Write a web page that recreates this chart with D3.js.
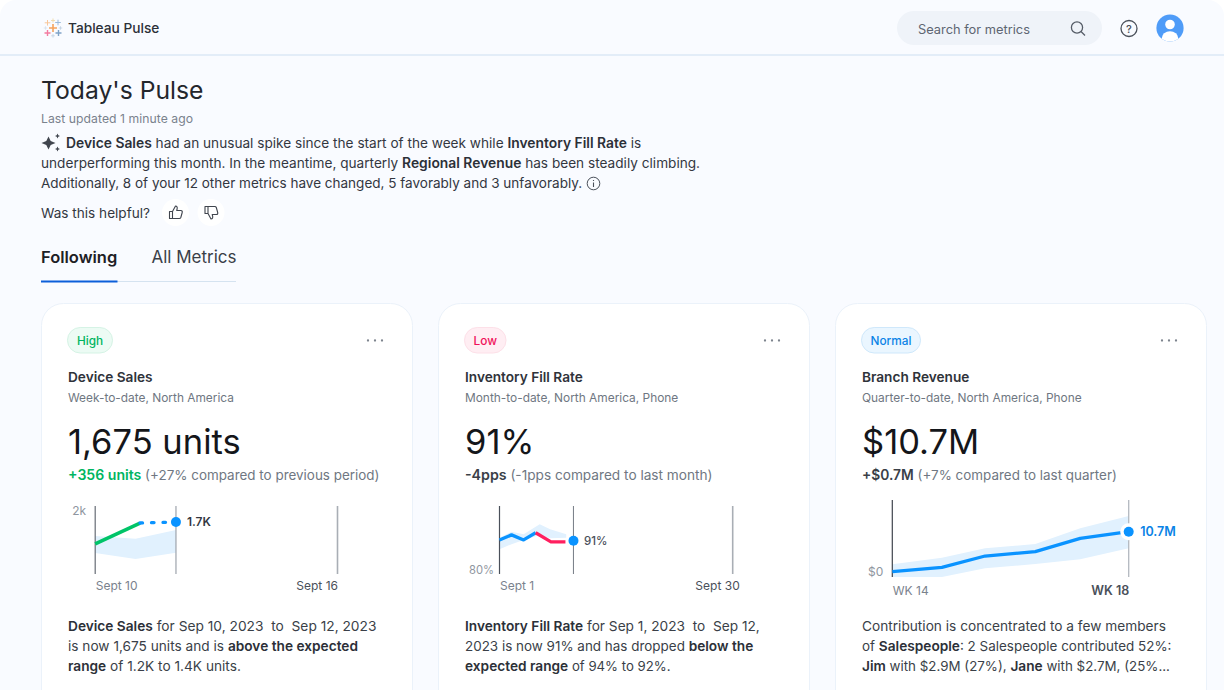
<!DOCTYPE html>
<html><head><meta charset="utf-8">
<script src="https://cdn.jsdelivr.net/npm/d3@7"></script>
<style>
html,body{margin:0;padding:0;background:#fff;overflow:hidden}
svg{display:block}
text{font-family:Inter,"Noto Sans",sans-serif}
</style></head><body><svg id="c" width="1224" height="690"></svg>
<script>
// ---- Data ----
const salesDays = [10, 11.11];
const salesActual = [1027, 1647];
const salesDashDays = [11.11, 12];
const salesDash = [1647, 1675];
const salesBandDays = [10, 11, 12];
const salesBandHigh = [1263, 1183, 1440];
const salesBandLow = [761, 583, 770];
const salesXTicks = [10, 16];
const salesXLabels = ["Sept 10", "Sept 16"];

const fillDays = [1, 2.5, 4, 5.5];
const fillBlue = [91.3, 93.2, 91.3, 94];
const fillRedDays = [5.5, 7.4, 9.2];
const fillRed = [94, 90.6, 90.6];
const fillBandDays = [1, 2.5, 4, 6, 7.3, 9.3];
const fillBandHigh = [92.1, 94.4, 93.4, 97.2, 95.3, 93.4];
const fillBandLow = [87.8, 89.7, 91.3, 93.2, 91.9, 92.1];
const fillXTicks = [1, 30];
const fillXLabels = ["Sept 1", "Sept 30"];

const revWeeks = [14, 14.84, 15.57, 16.42, 17.18, 18];
const revValues = [0, 1.16, 4.19, 5.35, 8.9, 10.7];
const revBandHigh = [1.96, 3.74, 6.24, 7.4, 11.6, 14.9];
const revBandLow = [-1.4, -1.4, 0.9, 2.05, 3.3, 6.24];
const revXTicks = [14, 18];
const revXLabels = ["WK 14", "WK 18"];

const titles = ["Device Sales", "Inventory Fill Rate", "Branch Revenue"];
const subtitles = ["Week-to-date, North America", "Month-to-date, North America, Phone", "Quarter-to-date, North America, Phone"];
const bigNumbers = ["1,675 units", "91%", "$10.7M"];
const badges = ["High", "Low", "Normal"];
const deltas = ["+356 units", "-4pps", "+$0.7M"];
const deltaNotes = [" (+27% compared to previous period)", " (-1pps compared to last month)", " (+7% compared to last quarter)"];
const summaryLines = [
  [["Device Sales",1],[" had an unusual spike since the start of the week while "],["Inventory Fill Rate",1],[" is"]],
  [["underperforming this month. In the meantime, quarterly "],["Regional Revenue",1],[" has been steadily climbing."]],
  [["Additionally, 8 of your 12 other metrics have changed, 5 favorably and 3 unfavorably."]]
];
const descriptions = [
  [[["Device Sales",1],[" for Sep 10, 2023  to  Sep 12, 2023"]],
   [["is now 1,675 units and is "],["above the expected",1]],
   [["range",1],[" of 1.2K to 1.4K units."]]],
  [[["Inventory Fill Rate",1],[" for Sep 1, 2023  to  Sep 12,"]],
   [["2023 is now 91% and has dropped "],["below the",1]],
   [["expected range",1],[" of 94% to 92%."]]],
  [[["Contribution is concentrated to a few members"]],
   [["of "],["Salespeople",1],[": 2 Salespeople contributed 52%:"]],
   [["Jim",1],[" with $2.9M (27%), "],["Jane",1],[" with $2.7M, (25%..."]]]
];

// ---- Helpers ----
const svg = d3.select("#c");
const BLUE="#0a93ff", GREEN="#00c468", RED="#ff1f5f", BAND="#e1f1fe", INK="#2c3038", GREY="#6f7782";
function rich(g,x,y,runs,size,boldSize,color,boldColor){
  const t=g.append("text").attr("x",x).attr("y",y).style("white-space","pre");
  runs.forEach(r=>t.append("tspan").text(r[0]).attr("font-size",r[1]?boldSize:size).attr("font-weight",r[1]?600:400).style("fill",r[1]?(boldColor||INK):(color||INK)));
  return t;
}
function txt(g,x,y,s,size,color,weight,anchor){
  return g.append("text").attr("x",x).attr("y",y).text(s).attr("font-size",size).style("fill",color||INK).attr("font-weight",weight||400).attr("text-anchor",anchor||"start");
}

// ---- Page ----
svg.append("rect").attr("width",1224).attr("height",720).attr("rx",16).attr("fill","#f9fbff");
svg.append("line").attr("x1",0).attr("x2",1224).attr("y1",55).attr("y2",55).attr("stroke","#dbe9f6").attr("stroke-width",1.4);

// logo
const logo=svg.append("g");
[[53,28,4,"#f6a35c",1.6],[47.5,22.8,2.8,"#f8c79a",1],[58,22.5,2.8,"#9bbbdc",1],[47.5,33,3,"#f37ba0",1.4],[58.5,33,3,"#7fa3c7",1.4],[53,20.5,2,"#efd9a8",.9],[53,35.8,1.8,"#c3d2e3",.9],[45.5,28,1.7,"#d8e1ec",.9],[60.5,28,1.7,"#c3d2e3",.9]].forEach(d=>{
  logo.append("path").attr("d",`M${d[0]-d[2]} ${d[1]}H${d[0]+d[2]}M${d[0]} ${d[1]-d[2]}V${d[1]+d[2]}`).attr("stroke",d[3]).attr("stroke-width",d[4]).attr("fill","none");
});
txt(svg,68,33,"Tableau Pulse",13.7,INK,500);

// search, help, avatar
svg.append("rect").attr("x",897).attr("y",11).attr("width",205).attr("height",34).attr("rx",17).attr("fill","#eff3f9");
txt(svg,918,33.5,"Search for metrics",12.85,"#5e6672");
svg.append("circle").attr("cx",1077).attr("cy",27.5).attr("r",5.6).attr("fill","none").attr("stroke","#555c67").attr("stroke-width",1.3);
svg.append("path").attr("d","M1081 31.5L1085 35.5").attr("stroke","#555c67").attr("stroke-width",1.3);
svg.append("circle").attr("cx",1129).attr("cy",28.5).attr("r",8).attr("fill","none").attr("stroke","#4a505a").attr("stroke-width",1.3);
txt(svg,1129,32.5,"?",11,"#4a505a",500,"middle");
const clip=svg.append("clipPath").attr("id","av");
clip.append("circle").attr("cx",1170).attr("cy",28).attr("r",13.6);
svg.append("circle").attr("cx",1170).attr("cy",28).attr("r",13.6).attr("fill","#4f9cf8");
const av=svg.append("g").attr("clip-path","url(#av)");
av.append("circle").attr("cx",1170).attr("cy",24.5).attr("r",4.8).attr("fill","#fff");
av.append("ellipse").attr("cx",1170).attr("cy",38).attr("rx",8.2).attr("ry",6.8).attr("fill","#fff");

// heading
txt(svg,41,99,"Today's Pulse",24.7,"#23262c",400);
txt(svg,41,123,"Last updated 1 minute ago",12.2,"#7a828d").attr("letter-spacing",.05);
const sp=svg.append("g").attr("fill","#40454e");
sp.append("path").attr("d","M48.5 136.5L50.7 141L55.5 143L50.7 145L48.5 149.5L46.3 145L41.5 143L46.3 141Z");
sp.append("path").attr("d","M57.5 133.5L58.3 135.2L60 136L58.3 136.8L57.5 138.5L56.7 136.8L55 136L56.7 135.2Z");
sp.append("path").attr("d","M57.5 146.5L58.3 148.2L60 149L58.3 149.8L57.5 151.5L56.7 149.8L55 149L56.7 148.2Z");
const sx=[66,41,41], sy=[148,168,188], sSize=[13.63,13.63,13.52];
summaryLines.forEach((l,i)=>rich(svg,sx[i],sy[i],l,sSize[i],13.85,"#33373f"));
svg.append("circle").attr("cx",593.5).attr("cy",183.5).attr("r",6.3).attr("fill","none").attr("stroke","#4a505a").attr("stroke-width",1);
svg.append("path").attr("d","M593.5 182.5V187M593.5 180V181").attr("stroke","#4a505a").attr("stroke-width",1.1);
txt(svg,41,218,"Was this helpful?",13.6,"#33373f");
[175.5,211].forEach((cx,i)=>{
  svg.append("circle").attr("cx",cx).attr("cy",212.5).attr("r",13.5).attr("fill","#fff");
  const dy=i? "translate("+cx+",212.5) scale(1,-1)":"translate("+cx+",212.5)";
  svg.append("path").attr("transform",dy).attr("fill","none").attr("stroke","#40454e").attr("stroke-width",1.1).attr("stroke-linejoin","round")
    .attr("d","M-6 -1H-3V6H-6ZM-3 -1L0 -6.5C1.6 -6.5 2 -5 1.6 -3.5L1.2 -2H5.4C6.6 -2 7 -1 6.7 0L5.3 5C5 5.8 4.6 6 3.8 6H-3");
});

// tabs
txt(svg,41,262.5,"Following",16.5,"#1d2025",600);
txt(svg,151.5,262.5,"All Metrics",17,"#3a3f48",400);
svg.append("line").attr("x1",41).attr("x2",236).attr("y1",281.5).attr("y2",281.5).attr("stroke","#d5e3f0").attr("stroke-width",1);
svg.append("line").attr("x1",41).attr("x2",117.5).attr("y1",281.5).attr("y2",281.5).attr("stroke","#0c5fd9").attr("stroke-width",2);

// ---- Cards ----
const cardX=[41,438,835];
const pillW=[45,41.5,59];
const pillFill=["#ecfbf4","#ffeef3","#eaf6ff"];
const pillStroke=["#d5f3e5","#fde0e8","#cfe8fb"];
const pillText=["#00b561","#f0115a","#0a83e6"];
const deltaBold=[14.1,14.2,13.8], deltaSize=[13.45,13.65,13.45];
const descSize=[[13.75,13.67,13.7],[13.7,13.45,13.2],[13.68,13.45,13.35]];
cardX.forEach((x,i)=>{
  const g=svg.append("g");
  g.append("rect").attr("x",x+.5).attr("y",303.5).attr("width",371).attr("height",420).attr("rx",22).attr("fill","#fff").attr("stroke","#ebf2fa");
  g.append("rect").attr("x",x+26.5).attr("y",327.5).attr("width",pillW[i]).attr("height",25.5).attr("rx",12.7).attr("fill",pillFill[i]).attr("stroke",pillStroke[i]);
  txt(g,x+26.5+pillW[i]/2,345,badges[i],11.8,pillText[i],500,"middle");
  [327,334,341].forEach(d=>g.append("circle").attr("cx",x+d).attr("cy",340.5).attr("r",1.15).attr("fill","#7d848e"));
  txt(g,x+27,382,titles[i],13.65,"#2f333a",600);
  txt(g,x+27,402,subtitles[i],11.9,"#6f7782");
  txt(g,x+27,454,bigNumbers[i],34.5,"#14161a",400);
  rich(g,x+27,480,[[deltas[i],1],[deltaNotes[i]]],deltaSize[i],deltaBold[i],"#6f7782",i===0?"#00b561":"#3a3f48");
  descriptions[i].forEach((l,k)=>rich(g,x+27,631+k*20,l,descSize[i][k],13.7,"#3a3f48","#2c3038"));
});

// ---- Mini charts ----
function axes(x,y,xTicks,xLabels,yTick,yLabel,xBase,opt){
  opt=opt||{};
  const bx=svg.append("g").attr("transform",`translate(0,${xBase})`)
    .call(d3.axisBottom(x).tickValues(xTicks).tickSize(0).tickPadding(0).tickFormat((d,i)=>xLabels[i]));
  bx.select(".domain").remove();
  bx.selectAll("text").attr("dy",0).attr("y",0).attr("font-size",(d,i)=>(i&&opt.bold)?12.5:12).style("font-family",'Inter,"Noto Sans",sans-serif')
    .style("fill",(d,i)=>i?"#4a505a":"#7a828d").attr("text-anchor",(d,i)=>i?"end":"start")
    .attr("dx",(d,i)=>i?(opt.endDx||0):0)
    .attr("font-weight",(d,i)=>(i&&opt.bold)?600:400);
  const ly=svg.append("g").attr("transform",`translate(${x.range()[0]-(opt.yGap||9)},0)`)
    .call(d3.axisLeft(y).tickValues([yTick]).tickSize(0).tickPadding(0).tickFormat(()=>yLabel));
  ly.select(".domain").remove();
  ly.selectAll("text").attr("font-size",opt.ySize||12).style("font-family",'Inter,"Noto Sans",sans-serif').style("fill","#8f96a0");
}
function vline(x,v,y0,y1,color,w){
  svg.append("line").attr("x1",x(v)).attr("x2",x(v)).attr("y1",y0).attr("y2",y1).attr("stroke",color).attr("stroke-width",w);
}
const pairs=(a,b)=>a.map((d,i)=>[d,b[i]]);
function band(x,y,days,hi,lo){
  svg.append("path").datum(days.map((d,i)=>[d,hi[i],lo[i]])).attr("fill",BAND)
    .attr("d",d3.area().x(d=>x(d[0])).y0(d=>y(d[2])).y1(d=>y(d[1])));
}
function trace(x,y,days,vals,color,dash,w){
  const p=svg.append("path").datum(pairs(days,vals)).attr("fill","none").attr("stroke",color).attr("stroke-width",w||3.3).attr("stroke-linejoin","round")
    .attr("d",d3.line().x(d=>x(d[0])).y(d=>y(d[1])));
  if(dash) p.attr("stroke-dasharray",dash).attr("stroke-linecap","round");
}

// Device Sales
{
  const x=d3.scaleLinear().domain([10,16]).range([95.2,337.5]);
  const y=d3.scaleLinear().domain([140,2150]).range([574,506]);
  band(x,y,salesBandDays,salesBandHigh,salesBandLow);
  vline(x,10,506,574,"#666c75",1.2); vline(x,12,506,574,"#9ea4ac",1.2); vline(x,16,506,574,"#a9aeb5",1.6);
  trace(x,y,salesDays,salesActual,GREEN,null,3.6);
  trace(x,y,salesDashDays,salesDash,BLUE,"2.5 9");
  svg.append("circle").attr("cx",x(12)).attr("cy",y(1675)).attr("r",5).attr("fill",BLUE);
  txt(svg,x(12)+11,y(1675)+4,"1.7K",12,"#33373f",600);
  axes(x,y,salesXTicks,salesXLabels,2000,"2k",590);
}
// Inventory Fill Rate
{
  const x=d3.scaleLinear().domain([1,30]).range([499.5,732.7]);
  const y=d3.scaleLinear().domain([78.5,104.06]).range([574,506]);
  band(x,y,fillBandDays,fillBandHigh,fillBandLow);
  vline(x,1,506,574,"#4a505a",1.2); vline(x,10.2,506,574,"#7d838c",1.1); vline(x,30,506,574,"#a9aeb5",1.6);
  trace(x,y,fillDays,fillBlue,BLUE);
  trace(x,y,fillRedDays,fillRed,RED);
  svg.append("circle").attr("cx",x(10.2)).attr("cy",y(91)).attr("r",5).attr("fill",BLUE);
  txt(svg,x(10.2)+10.5,y(91)+4,"91%",11.5,"#4a505a",500);
  axes(x,y,fillXTicks,fillXLabels,80,"80%",590,{endDx:6.5,yGap:5.5,ySize:11.2});
}
// Branch Revenue
{
  const x=d3.scaleLinear().domain([14,18]).range([892.3,1128.7]);
  const y=d3.scaleLinear().domain([-1.42,19.17]).range([577,500]);
  band(x,y,revWeeks,revBandHigh,revBandLow);
  vline(x,14,500,577,"#3f444c",1.2); vline(x,18,500,577,"#b3b8bf",1.3);
  trace(x,y,revWeeks,revValues,BLUE);
  svg.append("circle").attr("cx",x(18)).attr("cy",y(10.7)).attr("r",8.5).attr("fill","#fff");
  svg.append("circle").attr("cx",x(18)).attr("cy",y(10.7)).attr("r",5).attr("fill",BLUE);
  txt(svg,x(18)+11.5,y(10.7)+4.5,"10.7M",12.5,"#0a83e6",600);
  axes(x,y,revXTicks,revXLabels,0,"$0",595,{bold:true});
}
</script></body></html>
